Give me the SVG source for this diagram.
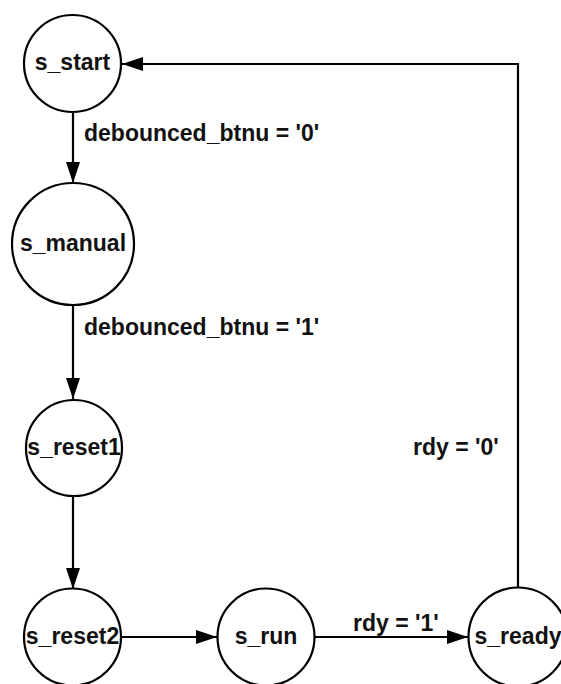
<svg xmlns="http://www.w3.org/2000/svg" width="561" height="684" viewBox="0 0 561 684">
<style>
.node{fill:#fff;stroke:#000;stroke-width:2.2}
.t{font-family:"Liberation Sans",Arial,sans-serif;font-weight:bold;font-size:23px;fill:#111}
.c{text-anchor:middle}
.e{fill:none;stroke:#000;stroke-width:2.2}
</style>
<defs>
<marker id="ah" markerWidth="22" markerHeight="14" refX="21" refY="7" orient="auto" markerUnits="userSpaceOnUse">
<path d="M0,0 L21,7 L0,14 Z" fill="#000"/>
</marker>
</defs>
<rect width="561" height="684" fill="#fff"/>
<g id="connectors">
<line class="e" x1="73" y1="112" x2="73" y2="183" marker-end="url(#ah)"/>
<line class="e" x1="73" y1="305" x2="73" y2="399" marker-end="url(#ah)"/>
<line class="e" x1="73" y1="496" x2="73" y2="589" marker-end="url(#ah)"/>
<line class="e" x1="121" y1="637" x2="217" y2="637" marker-end="url(#ah)"/>
<line class="e" x1="314" y1="637" x2="468" y2="637" marker-end="url(#ah)"/>
<polyline class="e" points="518,588 518,64 122,64" marker-end="url(#ah)"/>
<text class="t" x="84" y="141">debounced_btnu = '0'</text>
<text class="t" x="84" y="335">debounced_btnu = '1'</text>
<text class="t" x="353" y="631">rdy = '1'</text>
<text class="t" x="413" y="455">rdy = '0'</text>
</g>
<g id="s_start"><circle class="node" cx="72.5" cy="63.5" r="48.5"/><text class="t c" x="72.5" y="70">s_start</text></g>
<g id="s_manual"><circle class="node" cx="73" cy="244" r="61"/><text class="t c" x="73" y="251">s_manual</text></g>
<g id="s_reset1"><circle class="node" cx="74" cy="448" r="48"/><text class="t c" x="74" y="455">s_reset1</text></g>
<g id="s_reset2"><circle class="node" cx="72.5" cy="637" r="48.5"/><text class="t c" x="72.5" y="644">s_reset2</text></g>
<g id="s_run"><circle class="node" cx="266" cy="637" r="48.5"/><text class="t c" x="266" y="644">s_run</text></g>
<g id="s_ready"><circle class="node" cx="518" cy="637" r="49.5"/><text class="t c" x="518" y="644">s_ready</text></g>
</svg>
